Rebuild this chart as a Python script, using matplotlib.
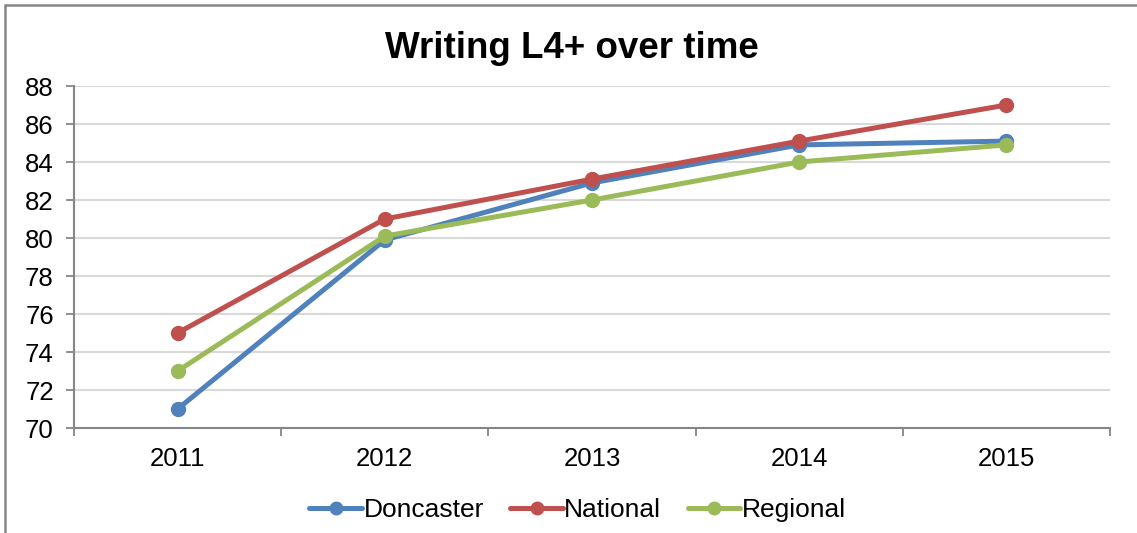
import matplotlib
matplotlib.use("Agg")
import matplotlib.pyplot as plt
from matplotlib.patches import Rectangle
import numpy as np

years = ["2011", "2012", "2013", "2014", "2015"]
doncaster = [71.0, 79.9, 82.9, 84.9, 85.1]
national = [75.0, 81.0, 83.1, 85.1, 87.0]
regional = [73.0, 80.1, 82.0, 84.0, 84.9]
y_ticks = [70, 72, 74, 76, 78, 80, 82, 84, 86, 88]

series = [
    ("Doncaster", doncaster, "#4F81BD"),
    ("National", national, "#C0504D"),
    ("Regional", regional, "#9BBB59"),
]

plt.rcParams["font.family"] = ["Liberation Sans", "DejaVu Sans"]

fig = plt.figure(figsize=(11.37, 5.33), dpi=100)
W, H = 1137, 533
ax = fig.add_axes([74 / W, 1 - 428 / H, (1110 - 74) / W, (428 - 86) / H])

x = np.arange(len(years))
for name, vals, col in series:
    ax.plot(x, vals, color=col, lw=3.6, marker="o", ms=10, label=name,
            solid_capstyle="round", solid_joinstyle="round")

ax.set_xlim(-0.5, len(years) - 0.5)
ax.set_ylim(70, 88)
ax.set_yticks(y_ticks)
ax.set_yticklabels([str(v) for v in y_ticks])
ax.yaxis.grid(True, color="#D9D9D9", lw=1.5)
ax.set_axisbelow(True)

ax.set_xticks(x)
ax.set_xticklabels(years)
ax.set_xticks(np.arange(-0.5, len(years)), minor=True)
ax.tick_params(axis="x", which="major", length=0, pad=14, labelsize=18.5)
ax.tick_params(axis="x", which="minor", length=5.5, width=1.3, color="#868686")
ax.tick_params(axis="y", length=5.5, width=1.3, color="#868686", pad=9, labelsize=18.5)

for side in ["top", "right"]:
    ax.spines[side].set_visible(False)
for side in ["left", "bottom"]:
    ax.spines[side].set_color("#868686")
    ax.spines[side].set_linewidth(1.5)

fig.text(0.503, 1 - 49 / H, "Writing L4+ over time", ha="center", va="center",
         fontsize=26.5, fontweight="bold")

leg = fig.legend(loc="center", bbox_to_anchor=(0.508, 1 - 510 / H), ncol=3,
                 frameon=False, fontsize=19, handlelength=2.0, handletextpad=0.05,
                 columnspacing=1.0, markerscale=0.9)

# chart frame
fig.patches.append(Rectangle((5 / W, -0.1), 1.2, 1 - 5 / H + 0.1, transform=fig.transFigure,
                             fill=False, edgecolor="#868686", lw=1.8))

fig.savefig("out.png", dpi=100)
